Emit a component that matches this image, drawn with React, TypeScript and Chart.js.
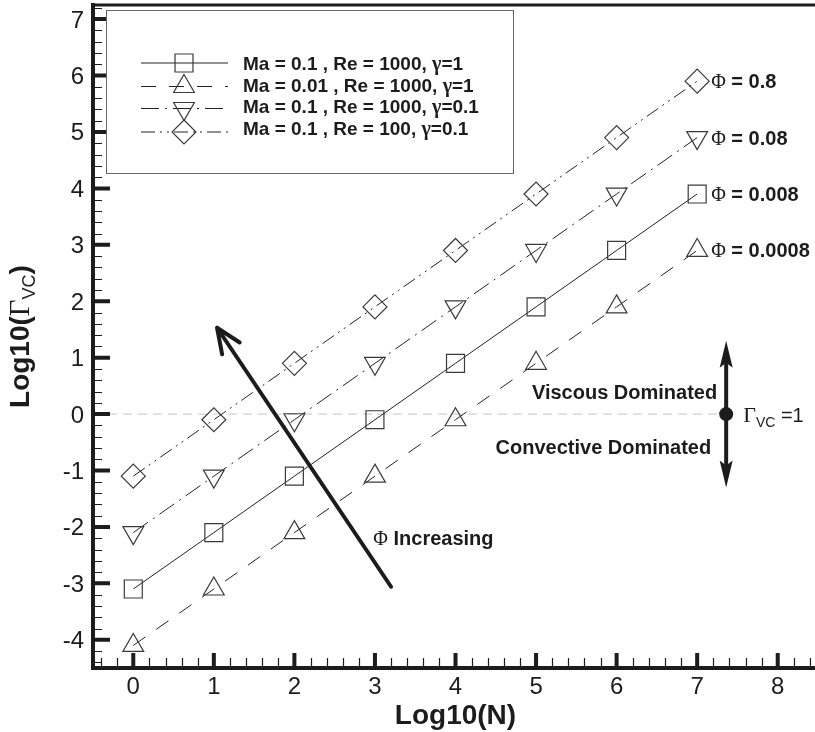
import React, { useEffect, useRef } from 'react';
import { Chart, registerables } from 'chart.js';

Chart.register(...registerables);

// ---- data -------------------------------------------------------------
const LOG_N = [0, 1, 2, 3, 4, 5, 6, 7];
// log10(Gamma_VC) for each parameter set
const GAMMA_MA01_RE1000_G1 = [-3.1, -2.1, -1.1, -0.1, 0.9, 1.9, 2.9, 3.9];
const GAMMA_MA001_RE1000_G1 = [-4.1, -3.1, -2.1, -1.1, -0.1, 0.9, 1.9, 2.9];
const GAMMA_MA01_RE1000_G01 = [-2.1, -1.1, -0.1, 0.9, 1.9, 2.9, 3.9, 4.9];
const GAMMA_MA01_RE100_G01 = [-1.1, -0.1, 0.9, 1.9, 2.9, 3.9, 4.9, 5.9];

// legend entries: text before gamma, gamma value
const SERIES_PREFIX = [
  'Ma = 0.1 , Re = 1000, ',
  'Ma = 0.01 , Re = 1000, ',
  'Ma = 0.1 , Re = 1000, ',
  'Ma = 0.1 , Re = 100, ',
];
const SERIES_GAMMA = ['1', '1', '0.1', '0.1'];
const PHI_VALUES = ['0.008', '0.0008', '0.08', '0.8'];

const X_TICKS = [0, 1, 2, 3, 4, 5, 6, 7, 8];
const Y_TICKS = [-4, -3, -2, -1, 0, 1, 2, 3, 4, 5, 6, 7];

// Gamma_VC = 1 marker and regime arrow
const REGIME_X = 7.36;
const REGIME_HALF_SPAN = 1.3;
// "Phi increasing" arrow (tail -> tip) in data units
const PHI_ARROW_TAIL = { x: 3.2, y: -3.06 };
const PHI_ARROW_TIP = { x: 1.04, y: 1.53 };

// ---- styling ----------------------------------------------------------
const SANS = '"Liberation Sans", Arial, Helvetica, sans-serif';
const SERIF = '"Liberation Serif", "Times New Roman", serif';
const INK = '#1c1c1c';
const MARK = '#3a3a3a';

const SERIES_STYLE = [
  { data: GAMMA_MA01_RE1000_G1, point: 'rect', radius: 12.7, rotation: 0, dash: [] as number[] },
  { data: GAMMA_MA001_RE1000_G1, point: 'triangle', radius: 12, rotation: 0, dash: [15, 13] },
  { data: GAMMA_MA01_RE1000_G01, point: 'triangle', radius: 12, rotation: 180, dash: [18, 6, 2, 6] },
  { data: GAMMA_MA01_RE100_G01, point: 'rectRot', radius: 12, rotation: 0, dash: [14, 5, 2, 5, 2, 5] },
];

type Run = { text: string; font: string; dy?: number };

function drawRuns(ctx: CanvasRenderingContext2D, runs: Run[], x: number, y: number, align: 'left' | 'right' | 'center' = 'left') {
  ctx.save();
  ctx.textBaseline = 'alphabetic';
  ctx.textAlign = 'left';
  ctx.fillStyle = INK;
  let total = 0;
  const widths = runs.map((r) => {
    ctx.font = r.font;
    const w = ctx.measureText(r.text).width;
    total += w;
    return w;
  });
  let cx = align === 'left' ? x : align === 'right' ? x - total : x - total / 2;
  runs.forEach((r, i) => {
    ctx.font = r.font;
    ctx.fillText(r.text, cx, y + (r.dy || 0));
    cx += widths[i];
  });
  ctx.restore();
}

// same geometry as Chart.js point styles
function markerPath(ctx: CanvasRenderingContext2D, style: string, x: number, y: number, r: number, rotDeg: number) {
  let rad = (rotDeg * Math.PI) / 180;
  ctx.beginPath();
  if (style === 'rect') {
    const s = Math.SQRT1_2 * r;
    ctx.rect(x - s, y - s, 2 * s, 2 * s);
  } else if (style === 'rectRot') {
    ctx.moveTo(x, y - r);
    ctx.lineTo(x + r, y);
    ctx.lineTo(x, y + r);
    ctx.lineTo(x - r, y);
    ctx.closePath();
  } else {
    ctx.moveTo(x + Math.sin(rad) * r, y - Math.cos(rad) * r);
    rad += (2 * Math.PI) / 3;
    ctx.lineTo(x + Math.sin(rad) * r, y - Math.cos(rad) * r);
    rad += (2 * Math.PI) / 3;
    ctx.lineTo(x + Math.sin(rad) * r, y - Math.cos(rad) * r);
    ctx.closePath();
  }
}

function filledHead(ctx: CanvasRenderingContext2D, tx: number, ty: number, ang: number, len: number, half: number) {
  // ang: direction the arrow points to
  const bx = tx - Math.cos(ang) * len;
  const by = ty - Math.sin(ang) * len;
  const nx = -Math.sin(ang);
  const ny = Math.cos(ang);
  const notchX = tx - Math.cos(ang) * (len - 5);
  const notchY = ty - Math.sin(ang) * (len - 5);
  ctx.beginPath();
  ctx.moveTo(tx, ty);
  ctx.lineTo(bx + nx * half, by + ny * half);
  ctx.lineTo(notchX, notchY);
  ctx.lineTo(bx - nx * half, by - ny * half);
  ctx.closePath();
  ctx.fill();
}

const overlayPlugin = {
  id: 'overlay',
  beforeDatasetsDraw(chart: any) {
    const { ctx, chartArea: a, scales } = chart;
    const sx = scales.x;
    const sy = scales.y;
    const y0 = sy.getPixelForValue(0);
    ctx.save();
    ctx.strokeStyle = '#c4c4c4';
    ctx.lineWidth = 1;
    ctx.setLineDash([9, 6]);
    ctx.beginPath();
    ctx.moveTo(a.left, y0);
    ctx.lineTo(sx.getPixelForValue(REGIME_X), y0);
    ctx.stroke();
    ctx.restore();
  },
  afterDatasetsDraw(chart: any) {
    const { ctx, chartArea: a, scales } = chart;
    const sx = scales.x;
    const sy = scales.y;
    ctx.save();
    ctx.strokeStyle = INK;
    ctx.fillStyle = INK;
    ctx.lineCap = 'butt';

    // minor ticks
    ctx.lineWidth = 1.2;
    ctx.beginPath();
    for (let i = -22; i <= 36; i++) {
      if (i % 5 === 0) continue;
      const py = Math.round(sy.getPixelForValue(i * 0.2)) + 0.5;
      ctx.moveTo(a.left, py);
      ctx.lineTo(a.left + 9, py);
    }
    for (let i = -2; i <= 42; i++) {
      if (i % 5 === 0) continue;
      const px = Math.round(sx.getPixelForValue(i * 0.2)) + 0.5;
      ctx.moveTo(px, a.bottom);
      ctx.lineTo(px, a.bottom - 10);
    }
    ctx.stroke();

    // major ticks
    ctx.lineWidth = 4;
    ctx.beginPath();
    Y_TICKS.forEach((v) => {
      const py = sy.getPixelForValue(v);
      ctx.moveTo(a.left, py);
      ctx.lineTo(a.left + 17, py);
    });
    X_TICKS.forEach((v) => {
      const px = sx.getPixelForValue(v);
      ctx.moveTo(px, a.bottom);
      ctx.lineTo(px, a.bottom - 15);
    });
    ctx.stroke();

    // tick labels
    ctx.font = `24px ${SANS}`;
    ctx.textAlign = 'right';
    ctx.textBaseline = 'alphabetic';
    Y_TICKS.forEach((v) => {
      ctx.fillText(String(v), a.left - 9, sy.getPixelForValue(v) + 8.5);
    });
    ctx.textAlign = 'center';
    X_TICKS.forEach((v) => {
      ctx.fillText(String(v), sx.getPixelForValue(v), a.bottom + 26);
    });

    // frame
    ctx.lineWidth = 4;
    ctx.beginPath();
    ctx.moveTo(a.left, a.top - 2);
    ctx.lineTo(a.left, a.bottom + 2);
    ctx.moveTo(a.left - 2, a.bottom);
    ctx.lineTo(a.right + 2, a.bottom);
    ctx.stroke();
    ctx.lineWidth = 3;
    ctx.beginPath();
    ctx.moveTo(a.left, a.top);
    ctx.lineTo(a.right, a.top);
    ctx.lineTo(a.right, a.bottom);
    ctx.stroke();

    // legend box
    ctx.fillStyle = '#ffffff';
    ctx.fillRect(107, 11, 407, 163);
    ctx.strokeStyle = '#666666';
    ctx.lineWidth = 1;
    ctx.strokeRect(106.5, 10.5, 407, 163);
    const lineRows = [63, 86.5, 108.5, 132];
    SERIES_STYLE.forEach((s, i) => {
      const ly = lineRows[i];
      ctx.strokeStyle = '#222';
      ctx.lineWidth = 1;
      ctx.setLineDash(s.dash);
      ctx.beginPath();
      ctx.moveTo(141, ly);
      ctx.lineTo(228, ly);
      ctx.stroke();
      ctx.setLineDash([]);
      ctx.strokeStyle = MARK;
      ctx.lineWidth = 1.2;
      markerPath(ctx, s.point, 184, ly, s.radius, s.rotation);
      ctx.stroke();
      drawRuns(
        ctx,
        [
          { text: SERIES_PREFIX[i], font: `bold 19px ${SANS}` },
          { text: '\u03B3', font: `bold 20px ${SERIF}` },
          { text: `=${SERIES_GAMMA[i]}`, font: `bold 19px ${SANS}` },
        ],
        243,
        63 + 21.7 * i + 6.8,
      );
    });

    // Phi labels at the last point of each series
    const lastX = sx.getPixelForValue(LOG_N[LOG_N.length - 1]);
    SERIES_STYLE.forEach((s, i) => {
      const py = sy.getPixelForValue(s.data[s.data.length - 1]);
      drawRuns(
        ctx,
        [
          { text: '\u03A6', font: `20px ${SERIF}` },
          { text: ` = ${PHI_VALUES[i]}`, font: `bold 20px ${SANS}` },
        ],
        lastX + 14,
        py + 7,
      );
    });

    // Phi increasing arrow
    const tx0 = sx.getPixelForValue(PHI_ARROW_TAIL.x);
    const ty0 = sy.getPixelForValue(PHI_ARROW_TAIL.y);
    const tx1 = sx.getPixelForValue(PHI_ARROW_TIP.x);
    const ty1 = sy.getPixelForValue(PHI_ARROW_TIP.y);
    const back = Math.atan2(ty0 - ty1, tx0 - tx1);
    const barb = (23 * Math.PI) / 180;
    ctx.strokeStyle = INK;
    ctx.lineWidth = 4;
    ctx.lineCap = 'round';
    ctx.lineJoin = 'round';
    ctx.beginPath();
    ctx.moveTo(tx0, ty0);
    ctx.lineTo(tx1, ty1);
    ctx.moveTo(tx1 + Math.cos(back - barb) * 27, ty1 + Math.sin(back - barb) * 27);
    ctx.lineTo(tx1, ty1);
    ctx.lineTo(tx1 + Math.cos(back + barb) * 27, ty1 + Math.sin(back + barb) * 27);
    ctx.stroke();
    ctx.lineCap = 'butt';

    drawRuns(
      ctx,
      [
        { text: '\u03A6', font: `20px ${SERIF}` },
        { text: ' Increasing', font: `bold 20px ${SANS}` },
      ],
      sx.getPixelForValue(2.98),
      sy.getPixelForValue(-2.2) + 7,
    );

    // regime arrow with Gamma_VC = 1 point
    const rx = sx.getPixelForValue(REGIME_X);
    const ry0 = sy.getPixelForValue(0);
    const ryTop = sy.getPixelForValue(REGIME_HALF_SPAN);
    const ryBot = sy.getPixelForValue(-REGIME_HALF_SPAN);
    ctx.fillStyle = INK;
    ctx.lineWidth = 4;
    ctx.beginPath();
    ctx.moveTo(rx, ryTop + 20);
    ctx.lineTo(rx, ryBot - 20);
    ctx.stroke();
    filledHead(ctx, rx, ryTop, -Math.PI / 2, 27, 6.5);
    filledHead(ctx, rx, ryBot, Math.PI / 2, 27, 6.5);
    ctx.beginPath();
    ctx.arc(rx, ry0, 7, 0, Math.PI * 2);
    ctx.fill();

    drawRuns(ctx, [{ text: 'Viscous Dominated', font: `bold 20px ${SANS}` }], rx - 9, ry0 - 22 + 7, 'right');
    drawRuns(ctx, [{ text: 'Convective Dominated', font: `bold 20px ${SANS}` }], rx - 15, ry0 + 33 + 7, 'right');
    drawRuns(
      ctx,
      [
        { text: '\u0393', font: `22px ${SERIF}` },
        { text: 'VC', font: `14px ${SANS}`, dy: 5 },
        { text: ' =1', font: `20px ${SANS}` },
      ],
      rx + 17,
      ry0 + 7.5,
    );

    // axis titles
    drawRuns(ctx, [{ text: 'Log10(N)', font: `bold 28px ${SANS}` }], (a.left + a.right) / 2, 724, 'center');
    ctx.save();
    ctx.translate(29, (a.top + a.bottom) / 2);
    ctx.rotate(-Math.PI / 2);
    drawRuns(
      ctx,
      [
        { text: 'Log10(', font: `bold 28px ${SANS}` },
        { text: '\u0393', font: `29px ${SERIF}` },
        { text: 'VC', font: `18px ${SANS}`, dy: 6 },
        { text: ')', font: `bold 28px ${SANS}` },
      ],
      0,
      0,
      'center',
    );
    ctx.restore();

    ctx.restore();
  },
};

export default function App() {
  const canvasRef = useRef<HTMLCanvasElement | null>(null);

  useEffect(() => {
    const canvas = canvasRef.current;
    if (!canvas) return;
    const chart = new Chart(canvas, {
      type: 'line',
      data: {
        datasets: SERIES_STYLE.map((s, i) => ({
          label: SERIES_PREFIX[i] + '\u03B3=' + SERIES_GAMMA[i],
          data: LOG_N.map((n, j) => ({ x: n, y: s.data[j] })),
          borderColor: '#222222',
          borderWidth: 1,
          borderDash: s.dash,
          fill: false,
          tension: 0,
          pointStyle: s.point as any,
          pointRadius: s.radius,
          pointRotation: s.rotation,
          pointBorderColor: MARK,
          pointBorderWidth: 1.2,
          pointBackgroundColor: 'rgba(0,0,0,0)',
        })),
      },
      options: {
        animation: false,
        responsive: false,
        maintainAspectRatio: false,
        devicePixelRatio: 1,
        layout: { autoPadding: false, padding: { top: 5, right: 5, left: 0, bottom: 0 } },
        plugins: { legend: { display: false }, tooltip: { enabled: false } },
        scales: {
          x: {
            type: 'linear',
            min: -0.5,
            max: 8.5,
            grid: { display: false, drawTicks: false },
            border: { display: false },
            ticks: { display: false },
            afterFit: (s: any) => {
              s.height = 64;
            },
          },
          y: {
            type: 'linear',
            min: -4.5,
            max: 7.25,
            grid: { display: false, drawTicks: false },
            border: { display: false },
            ticks: { display: false },
            afterFit: (s: any) => {
              s.width = 93;
            },
          },
        },
      },
      plugins: [overlayPlugin],
    });
    return () => chart.destroy();
  }, []);

  return (
    <div style={{ position: 'fixed', left: 0, top: 0, width: 815, height: 732, overflow: 'hidden', background: '#fff' }}>
      <canvas ref={canvasRef} width={823} height={732} style={{ width: 823, height: 732, display: 'block' }} />
    </div>
  );
}
